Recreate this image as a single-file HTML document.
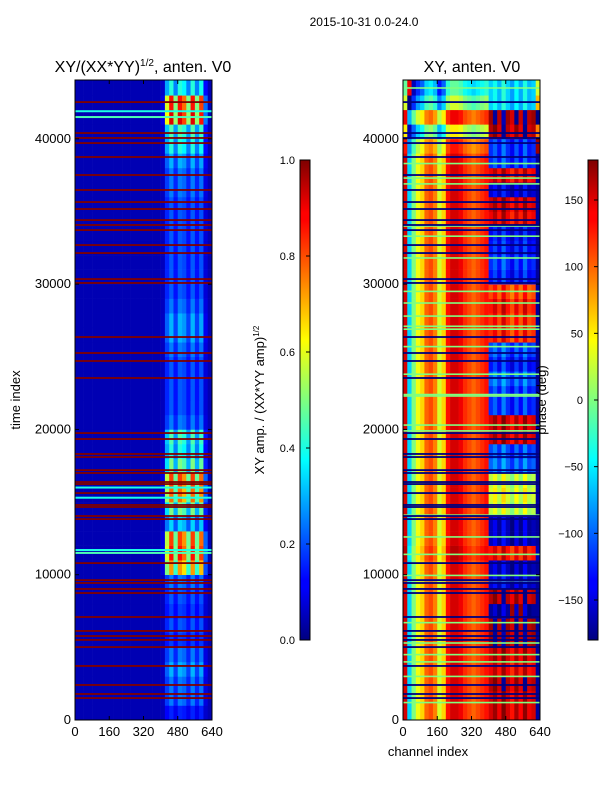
<!DOCTYPE html>
<html><head><meta charset="utf-8"><style>
body{margin:0;background:#fff}
svg{display:block;font-family:"Liberation Sans","DejaVu Sans",sans-serif}
</style></head><body>
<svg id="fig" width="600" height="800" viewBox="0 0 600 800">
<defs>
<linearGradient id="jet" x1="0" y1="1" x2="0" y2="0">
<stop offset="0" stop-color="#00007f"/><stop offset="0.11" stop-color="#0000ff"/><stop offset="0.125" stop-color="#0000ff"/>
<stop offset="0.34" stop-color="#00dbff"/><stop offset="0.375" stop-color="#00ffff"/><stop offset="0.5" stop-color="#7fff7f"/>
<stop offset="0.625" stop-color="#ffff00"/><stop offset="0.66" stop-color="#ffdb00"/><stop offset="0.875" stop-color="#ff0000"/>
<stop offset="0.89" stop-color="#ff0000"/><stop offset="1" stop-color="#7f0000"/>
</linearGradient>
</defs>
<text x="364" y="26" font-size="12" text-anchor="middle">2015-10-31 0.0-24.0</text>
<text x="143" y="72" font-size="16" text-anchor="middle">XY/(XX*YY)<tspan font-size="10" dy="-6">1/2</tspan><tspan dy="6">, anten. V0</tspan></text>
<text x="472" y="72" font-size="16" text-anchor="middle">XY, anten. V0</text>
<g id="left"></g><g id="right"></g>
<rect x="300" y="160" width="10" height="480" fill="url(#jet)" stroke="#000" stroke-width="1"/>
<rect x="588" y="160" width="10" height="480" fill="url(#jet)" stroke="#000" stroke-width="1"/>
<g id="cb1"></g><g id="cb2"></g>
<text transform="translate(264,400) rotate(-90)" font-size="13" text-anchor="middle">XY amp. / (XX*YY amp)<tspan font-size="8" dy="-5">1/2</tspan></text>
<text transform="translate(546,400) rotate(-90)" font-size="13" text-anchor="middle">phase (deg)</text>
<text transform="translate(20,400) rotate(-90)" font-size="13" text-anchor="middle">time index</text>
<text x="428" y="756" font-size="13" text-anchor="middle">channel index</text>
</svg>
<script>
// ---- data ----
const timeBins = [0,1000,2000,3000,4000,5000,6000,7000,8000,9000,10000,11000,12000,13000,14000,15000,16000,17000,18000,19000,20000,21000,22000,23000,24000,25000,26000,27000,28000,29000,30000,31000,32000,33000,34000,35000,36000,37000,38000,39000,40000,41000,42000,43000];
const chanBins = [0,20,40,60,80,100,120,140,160,180,200,220,240,260,280,300,320,340,360,380,400,420,440,460,480,500,520,540,560,580,600,620];
const ampRowLevel = [0.12,0.22,0.22,0.28,0.22,0.15,0.18,0.15,0.18,0.22,0.75,0.9,0.85,0.32,0.5,0.8,0.85,0.5,0.4,0.45,0.22,0.18,0.18,0.18,0.18,0.22,0.28,0.28,0.22,0.18,0.18,0.18,0.18,0.18,0.18,0.18,0.22,0.22,0.28,0.4,0.45,0.95,0.9,0.4];
const ampColProfile = [0,0,0,0,0,0,0,0,0,0,0,0,0,0,0,0,0,0,0,0,0.05,0.6,0.9,0.5,0.9,0.8,0.5,0.9,0.5,0.85,0.2,0];
const ampBackground = 0.05;
const flaggedTimes = [42530,40400,40060,39710,38750,37510,36480,35650,35170,34410,34070,33720,32690,32140,30350,30080,26360,25260,24710,23540,19750,19340,18310,18100,17200,17000,16380,16240,15620,14800,14660,14040,13830,10800,9630,9430,9020,8740,7090,6130,5780,5510,5020,3720,2410,1790,1510];
const brightLineTimes = [41500,41900,11500,11700,16000,15300];
const brightLineValues = [0.45,0.4,0.45,0.4,0.4,0.4];
const phaseColBase = [150,-60,0,40,60,100,110,90,30,60,130,150,150,140,120,110,100,110,120,130,0,0,0,0,0,0,0,0,0,0,0,-170];
const phaseRowShift = [0,0,0,0,0,0,0,0,0,0,0,10,0,0,0,0,0,0,0,0,0,0,0,0,0,0,0,0,0,0,0,0,0,0,0,0,0,0,0,-20,-100,-10,-120,-160];
const phaseMixRow = [150,150,160,140,150,170,170,-170,160,-150,-160,130,-160,-160,20,30,20,-100,-110,150,150,-120,-120,-100,-130,-110,120,120,130,110,-130,-120,-130,-140,140,150,-150,140,-120,-120,160,170,-60,-60];
const phaseMixCol = [0,0,0,0,0,0,0,0,0,0,0,0,0,0,0,0,0,0,0,0,0,20,-10,30,0,-20,15,-15,25,-10,0,0];
const greenLineTimes = [43500,38300,37300,36900,34000,33300,31800,29500,28700,27800,27100,26900,25700,23800,22400,22300,20300,19900,14100,12600,11400,9950,9600,6700,5300,4500,4000,3000,1200];
const tickTimes = [0,10000,20000,30000,40000];
const tickChans = [0,160,320,480,640];
const ampTicks = [0.0,0.2,0.4,0.6,0.8,1.0];
const phaseTicks = [-150,-100,-50,0,50,100,150];

// ---- scales ----
const Y0=720,Y1=80,TMAX=44050;
function yT(t){return Y0-(t/TMAX)*(Y0-Y1);}
function xC(x0,c){return x0+(c/640)*137;}
function jet(v){v=Math.max(0,Math.min(1,v));
 const f=a=>Math.round(255*Math.max(0,Math.min(1,1.5-Math.abs(4*v-a))));
 return `rgb(${f(3)},${f(2)},${f(1)})`;}
function phaseColor(p){while(p>180)p-=360;while(p<-180)p+=360;return jet((p+180)/360);}
const NS='http://www.w3.org/2000/svg';
function mk(tag,attrs,parent){const e=document.createElementNS(NS,tag);for(const k in attrs)e.setAttribute(k,attrs[k]);parent.appendChild(e);return e;}

function drawPanel(g,x0,name,cellFn,flagColor,withGreen){
 for(let r=0;r<timeBins.length;r++){
  const t0=timeBins[r],t1=(r==timeBins.length-1)?TMAX:t0+1000;
  for(let c=0;c<chanBins.length;c++){
   const el=mk('rect',{x:xC(x0,chanBins[c]).toFixed(2),y:yT(t1).toFixed(2),width:(137/32+0.3).toFixed(2),height:(yT(t0)-yT(t1)+0.3).toFixed(2),fill:cellFn(r,c)},g);
   
   
  }
 }
 if(name==='amp'){
  for(let i=0;i<brightLineTimes.length;i++){
   const el=mk('rect',{x:x0,y:yT(brightLineTimes[i])-1,width:137,height:2,fill:jet(brightLineValues[i])},g);
   
   
  }
 }
 if(withGreen){
  for(const t of greenLineTimes){
   const el=mk('rect',{x:x0,y:yT(t)-0.8,width:137,height:1.6,fill:'#7fff7f'},g);
   
   
  }
 }
 for(const t of flaggedTimes){
  const el=mk('rect',{x:x0,y:yT(t)-0.9,width:137,height:1.8,fill:flagColor},g);
  
  
 }
 const fr=mk('rect',{x:x0,y:Y1,width:137,height:Y0-Y1,fill:'none',stroke:'#000','stroke-width':1},g);
 
 
 for(const t of tickTimes){
  const y=yT(t);
  mk('line',{x1:x0,y1:y,x2:x0+4,y2:y,stroke:'#000'},g);
  mk('line',{x1:x0+137,y1:y,x2:x0+133,y2:y,stroke:'#000'},g);
  const tx=mk('text',{x:x0-4,y:y+4,'font-size':13,'text-anchor':'end'},g);tx.textContent=t;
  
  
 }
 for(const c of tickChans){
  const x=xC(x0,c);
  mk('line',{x1:x,y1:Y0,x2:x,y2:Y0-4,stroke:'#000'},g);
  mk('line',{x1:x,y1:Y1,x2:x,y2:Y1+4,stroke:'#000'},g);
  const tx=mk('text',{x:x,y:Y0+16,'font-size':13,'text-anchor':'middle'},g);tx.textContent=c;
  
  
 }
}
drawPanel(document.getElementById('left'),75,'amp',(r,c)=>jet(ampBackground+ampRowLevel[r]*ampColProfile[c]),'#800000',false);
drawPanel(document.getElementById('right'),403,'phase',(r,c)=>{
 if(c>=20&&c<31)return phaseColor(phaseMixRow[r]+phaseMixCol[c]);
 return phaseColor(phaseColBase[c]+phaseRowShift[r]);
},'#00007f',true);

function drawCb(g,x,ticks,vmin,vmax,fmt){
 for(const v of ticks){
  const y=640-(v-vmin)/(vmax-vmin)*480;
  mk('line',{x1:x+10,y1:y,x2:x+6,y2:y,stroke:'#000'},g);
  const tx=mk('text',{x:x-5,y:y+4,'font-size':11,'text-anchor':'end'},g);tx.textContent=fmt(v);
  
  
 }
}
drawCb(document.getElementById('cb1'),300,ampTicks,0,1,v=>v.toFixed(1));
drawCb(document.getElementById('cb2'),588,phaseTicks,-180,180,v=>v<0?'\u2212'+(-v):String(v));
</script>
</body></html>
